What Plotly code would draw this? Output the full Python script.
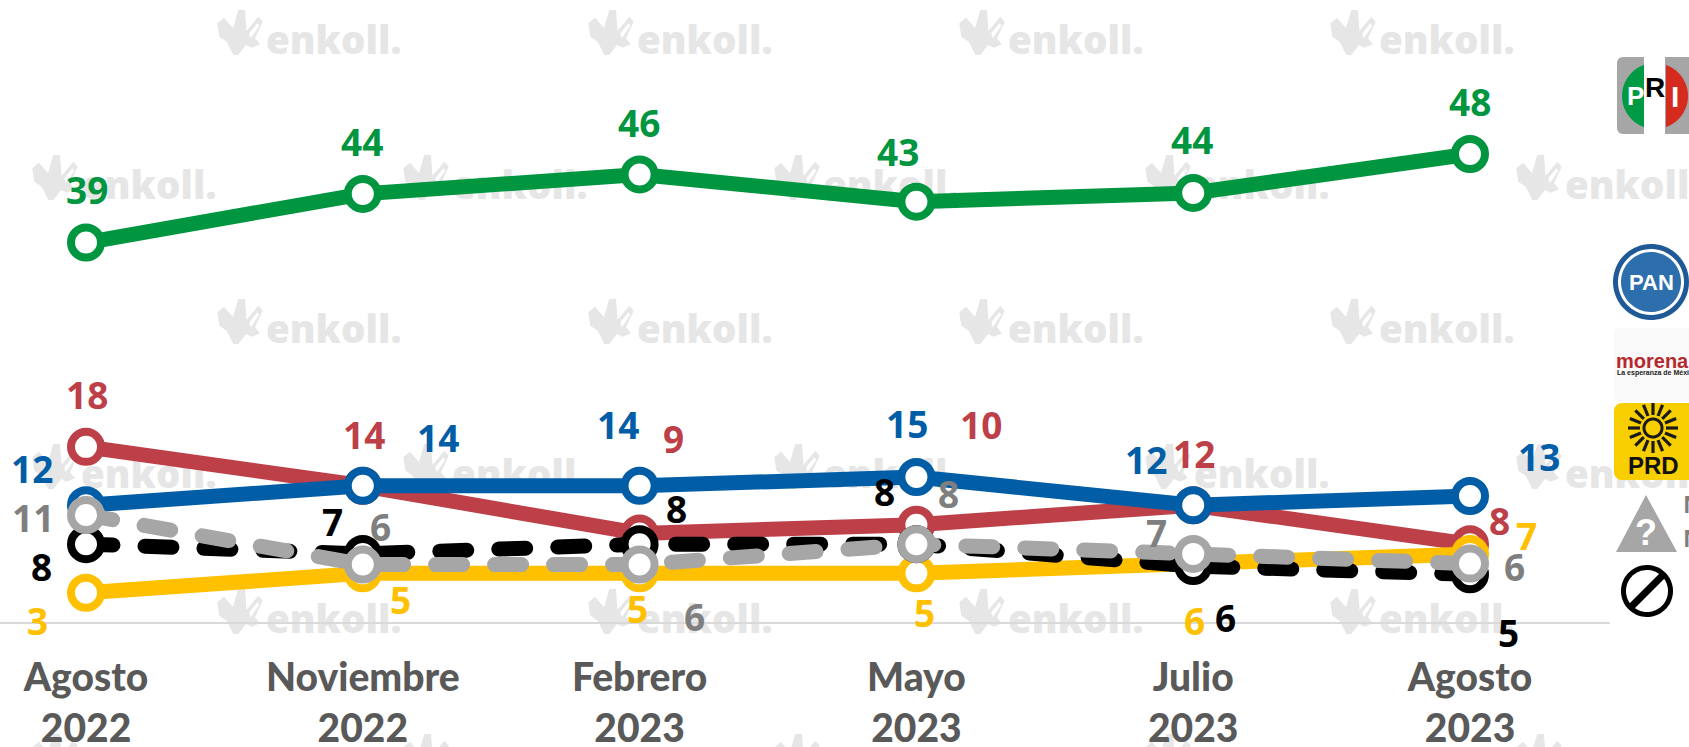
import numpy as np
import plotly.graph_objects as go

W, H = 1689, 747
# ---- data ----
months = ["Agosto", "Noviembre", "Febrero", "Mayo", "Julio", "Agosto"]
years = ["2022", "2022", "2023", "2023", "2023", "2023"]
morena = [39, 44, 46, 43.2, 44.1, 48.1]
pri = [18, 14, 9.1, 10, 12, 8]
pan = [12, 14, 14, 14.9, 12, 12.95]
prd = [3, 5, 5, 5, 6, 7]
nulo = [8, 7, 8, 8, 5.75, 4.9]
nsnc = [11, 5.9, 5.9, 8, 7, 6]
morena_lbl = [39, 44, 46, 43, 44, 48]
pri_lbl = [18, 14, 9, 10, 12, 8]
pan_lbl = [12, 14, 14, 15, 12, 13]
prd_lbl = [3, 5, 5, 5, 6, 7]
nulo_lbl = [8, 7, 8, 8, 6, 5]
nsnc_lbl = [11, 6, 6, 8, 7, 6]

# ---- layout constants (pixels) ----
X0, XU, Y0, YU = 86, 276.8, 622, 9.73
AXIS_END = 1610
GREEN, RED, BLUE, YELLOW, BLACK, GRAY = "#00953F", "#BD4049", "#005DA6", "#FFC000", "#000000", "#A6A6A6"
LBL_GRAY = "#7F7F7F"
FONT = "Open Sans"
series = [
    (morena, morena_lbl, GREEN, GREEN, False, [(1,-53),(-1,-52),(-1,-52),(-18,-50),(-1,-53),(0,-52)]),
    (pri, pri_lbl, RED, RED, False, [(1,-52),(1,-51),(34,-95),(65,-100),(1,-52),(29,-24)]),
    (pan, pan_lbl, BLUE, BLUE, False, [(-54,-37),(75,-48),(-22,-61),(-9,-54),(-47,-46),(69,-40)]),
    (prd, prd_lbl, YELLOW, YELLOW, False, [(-49,28),(38,26),(-2,35),(8,39),(1,57),(56,-18)]),
    (nulo, nulo_lbl, BLACK, BLACK, True, [(-45,22),(-30,-32),(37,-36),(-32,-53),(32,51),(38,58)]),
    (nsnc, nsnc_lbl, GRAY, LBL_GRAY, True, [(-53,3),(18,-38),(55,52),(32,-51),(-37,-21),(44,3)]),
]

def dx(px): return (px - X0) / XU
def dy(py): return (Y0 - py) / YU
def pxx(px): return px / W
def pxy(py): return 1 - py / H
def path(pts):
    return "M" + " L".join(f"{pxx(a):.5f},{pxy(b):.5f}" for a, b in pts) + " Z"
def ell(cx, cy, rx, ry=None, a0=0, a1=2*np.pi, n=72):
    ry = rx if ry is None else ry
    t = np.linspace(a0, a1, n)
    return list(zip(cx + rx*np.cos(t), cy + ry*np.sin(t)))
def rrect(x0, y0, x1, y1, r):
    pts = []
    for cx, cy, a in [(x1-r,y0+r,-np.pi/2),(x1-r,y1-r,0),(x0+r,y1-r,np.pi/2),(x0+r,y0+r,np.pi)]:
        pts += ell(cx, cy, r, r, a, a+np.pi/2, 8)
    return pts

fig = go.Figure()
shapes, annos = [], []
def shp(pts, color, layer="above", lc=None, lw=0):
    shapes.append(dict(type="path", xref="paper", yref="paper", path=path(pts), fillcolor=color,
                       line=dict(width=lw, color=lc or color), layer=layer))
def txt(x, y, s, size, color, anchor="center", font=FONT, weight=700):
    annos.append(dict(xref="paper", yref="paper", x=pxx(x), y=pxy(y), text=s, showarrow=False,
                      xanchor=anchor, yanchor="middle", borderpad=0,
                      font=dict(family=font, size=size, color=color, weight=weight)))

# ---- watermark (on its own full-page pixel axes, under the chart) ----
WM = "#E6E6E6"
LOGO = [(0.3,13.3),(7,7.7),(16,18),(21.3,0),(28,0),(29.5,21),(41.3,6.7),(45.7,11.7),(38,28.3),(43,34.3),
        (34.7,37.7),(29,35),(21.3,45),(16.3,45),(9.7,31.7),(2.3,26.7)]
SLIT = [(32.3,23.3),(40.3,13.3),(42.3,15.7),(33.7,28.3)]
wx, wy = [], []
for r, top in enumerate([10, 155, 299, 444, 589, 734]):
    start = -154 if r % 2 == 0 else 32
    for k in range(5):
        lx = start + 371*k
        shp([(lx+a, top+b) for a, b in LOGO], WM, "below")
        shp([(lx+a, top+b) for a, b in SLIT], "#FFFFFF", "below")
        wx.append(lx+49); wy.append(top+34)
fig.add_trace(go.Scatter(x=wx, y=wy, mode="text", text=["enkoll."]*len(wx), textposition="middle right",
                         textfont=dict(family=FONT, size=38.5, color=WM, weight=800), cliponaxis=False,
                         hoverinfo="skip", showlegend=False, xaxis="x", yaxis="y"))

# ---- series ----
idx = list(range(len(months)))
for vals, lbls, col, lcol, dashed, offs in series:
    fig.add_trace(go.Scatter(x=idx, y=vals, mode="lines+markers", cliponaxis=False, showlegend=False,
                             xaxis="x2", yaxis="y2",
                             line=dict(color=col, width=15, dash="27px,32px" if dashed else "solid"),
                             marker=dict(size=30, color="#FFFFFF", line=dict(color=col, width=8))))
    for i, v, l, (ox, oy) in zip(idx, vals, lbls, offs):
        annos.append(dict(x=i, y=v, xref="x2", yref="y2", text=str(l), showarrow=False, xshift=ox, yshift=-oy,
                          xanchor="center", yanchor="middle", borderpad=0,
                          font=dict(family=FONT, size=37, color=lcol, weight=700)))

# ---- party badges ----
shp(rrect(1617, 57, 1700, 134, 6), "#A6A6A6")
shp([(1644,57),(1665,57),(1665,134),(1644,134)], "#FFFFFF")
shp(ell(1655, 96, 33, 33, np.pi/2+0.34, 3*np.pi/2-0.34, 30), "#009A44")
shp(ell(1655, 96, 33, 33, -np.pi/2+0.34, np.pi/2-0.34, 30), "#D52B1E")
txt(1635, 96, "P", 26, "#FFFFFF", font="Liberation Sans")
txt(1655, 87, "R", 28, "#000000", font="Liberation Sans")
txt(1675, 96, "I", 30, "#FFFFFF", font="Liberation Sans")

shp(ell(1651, 282, 38, 38), "#1F5A96")
shp(ell(1651, 282, 33, 33), "#FFFFFF")
shp(ell(1651, 282, 30, 30), "#2D6EAD")
txt(1651, 282, "PAN", 22, "#FFFFFF", font="Liberation Sans")

shp(rrect(1614, 328, 1700, 401, 5), "#F9F9F9")
txt(1615, 361, "morena", 20, "#B5282E", "left", font="Liberation Sans")
txt(1616, 373, "La esperanza de México", 7, "#222222", "left", font="Liberation Sans")

shp(rrect(1614, 403, 1700, 480, 8), "#F7CE00")
SUN = (1653, 428)
for a in np.linspace(0, 2*np.pi, 16, endpoint=False):
    u, v = np.cos(a), np.sin(a)
    r0, r1, w = 13, 25, 1.6
    shp([(SUN[0]+r0*u-w*v, SUN[1]+r0*v+w*u), (SUN[0]+r1*u-w*v, SUN[1]+r1*v+w*u),
         (SUN[0]+r1*u+w*v, SUN[1]+r1*v-w*u), (SUN[0]+r0*u+w*v, SUN[1]+r0*v-w*u)], "#1A1A1A")
shp(ell(SUN[0], SUN[1], 10.5), "#1A1A1A")
shp(ell(SUN[0], SUN[1], 7.5), "#F7CE00")
txt(1653, 465, "PRD", 24, "#111111", font="Liberation Sans")

shp([(1646,495),(1677,552),(1616,552)], "#A6A6A6")
txt(1646, 532, "?", 36, "#FFFFFF", font="Liberation Sans")
txt(1682, 503, "No sabe", 24, "#7F7F7F", "left")
txt(1682, 537, "No contestó", 24, "#7F7F7F", "left")

shp(ell(1647, 591, 26), "#000000")
shp(ell(1647, 591, 21), "#FFFFFF")
shp([(1629,604),(1660,573),(1665,578),(1634,609)], "#000000")

fig.update_layout(
    width=W, height=H, margin=dict(l=0, r=0, t=0, b=0, pad=0),
    paper_bgcolor="#FFFFFF", plot_bgcolor="rgba(0,0,0,0)", showlegend=False,
    shapes=shapes, annotations=annos,
    xaxis=dict(domain=[0, 1], range=[0, W], visible=False, automargin=False),
    yaxis=dict(domain=[0, 1], range=[H, 0], visible=False, automargin=False),
    xaxis2=dict(domain=[0, AXIS_END/W], range=[dx(0), dx(AXIS_END)], tickmode="array", tickvals=idx, anchor="y2",
                ticktext=[f"{m}<br>{y}" for m, y in zip(months, years)], showgrid=False, zeroline=False,
                showline=True, linecolor="#D9D9D9", linewidth=2, ticks="", automargin=False,
                tickfont=dict(family="Lato", size=39, color="#595959", weight=900), ticklabelstandoff=20),
    yaxis2=dict(domain=[(H-Y0)/H, 1], range=[0, dy(0)], visible=False, automargin=False, anchor="x2"),
)
post = ("document.documentElement.style.overflow='hidden';document.body.style.margin='0';"
        "document.body.style.overflow='hidden';"
        "document.querySelectorAll('.js-line').forEach(function(e){e.style.strokeLinecap='round';});")
fig.write_html("out.html", post_script=post, config=dict(displayModeBar=False))
